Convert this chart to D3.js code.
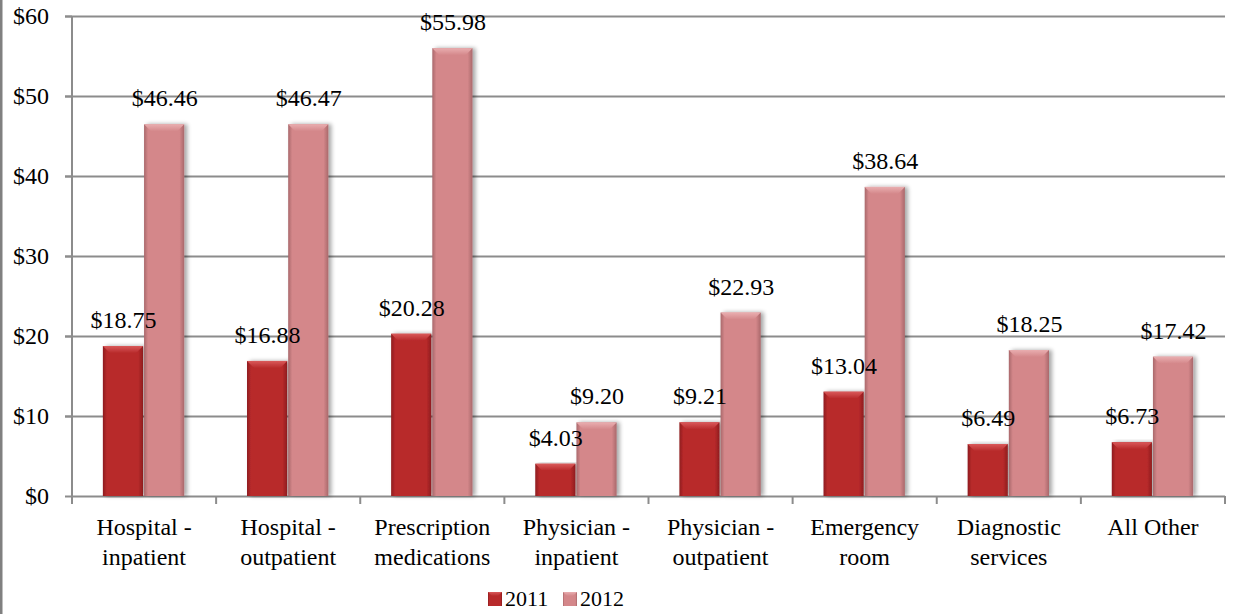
<!DOCTYPE html>
<html><head><meta charset="utf-8">
<script src="https://cdn.jsdelivr.net/npm/d3@7"></script>
<style>
body{margin:0;background:#fff;}
svg text{font-family:"Liberation Serif",Tinos,"Times New Roman",Times,"DejaVu Serif","Noto Serif",serif !important;fill:#000;}
</style></head>
<body><svg id="c" width="1238" height="614"></svg>
<script>
const categories = [["Hospital -","inpatient"],["Hospital -","outpatient"],["Prescription","medications"],["Physician -","inpatient"],["Physician -","outpatient"],["Emergency","room"],["Diagnostic","services"],["All Other"]];
const series = ["2011","2012"];
const values2011 = [18.75,16.88,20.28,4.03,9.21,13.04,6.49,6.73];
const values2012 = [46.46,46.47,55.98,9.20,22.93,38.64,18.25,17.42];
const yTicks = [0,10,20,30,40,50,60];

const svg = d3.select("#c");
const m = {l:72, r:1225, t:16, b:496};
const x = d3.scaleBand().domain(d3.range(categories.length)).range([m.l,m.r]).paddingInner(0).paddingOuter(0);
const xs = d3.scaleBand().domain(series).range([0,x.bandwidth()]).paddingInner(0).paddingOuter(0.75);
const y = d3.scaleLinear().domain([0,60]).range([m.b,m.t]);

const defs = svg.append("defs");
const cols = {"2011":{base:"#b82a2b",dark:"#8e1c1e",light:"#d9595a"},"2012":{base:"#d4878a",dark:"#a9686b",light:"#e9aeb0"}};
series.forEach(s=>{
  const g = defs.append("linearGradient").attr("id","g"+s).attr("x1","0").attr("x2","1").attr("y1","0").attr("y2","0");
  g.append("stop").attr("offset","0").attr("stop-color",cols[s].dark);
  g.append("stop").attr("offset","0.1").attr("stop-color",cols[s].base);
  g.append("stop").attr("offset","0.88").attr("stop-color",cols[s].base);
  g.append("stop").attr("offset","1").attr("stop-color",cols[s].dark);
  const t = defs.append("linearGradient").attr("id","t"+s).attr("x1","0").attr("x2","0").attr("y1","0").attr("y2","1");
  t.append("stop").attr("offset","0").attr("stop-color",cols[s].light);
  t.append("stop").attr("offset","1").attr("stop-color",cols[s].base);
});
const f = defs.append("filter").attr("id","sh").attr("x","-20%").attr("y","-5%").attr("width","150%").attr("height","115%");
f.append("feGaussianBlur").attr("in","SourceAlpha").attr("stdDeviation","2");
f.append("feOffset").attr("dx","3").attr("dy","0").attr("result","b");
f.append("feComponentTransfer").append("feFuncA").attr("type","linear").attr("slope","0.35");
const fm = f.append("feMerge"); fm.append("feMergeNode"); fm.append("feMergeNode").attr("in","SourceGraphic");

const FF = "Liberation Serif, Tinos, Times New Roman, DejaVu Serif, serif";

// left border
svg.append("line").attr("x1",1).attr("x2",1).attr("y1",0).attr("y2",614).attr("stroke","#808080").attr("stroke-width",3);

// gridlines
svg.append("g").selectAll("line").data(yTicks.filter(d=>d>0)).join("line")
  .attr("x1",65).attr("x2",m.r).attr("y1",d=>y(d)+0.5).attr("y2",d=>y(d)+0.5)
  .attr("stroke","#8c8c8c").attr("stroke-width",2);

// y axis
const ya = svg.append("g").attr("transform",`translate(${m.l},0)`).call(d3.axisLeft(y).tickValues(yTicks).tickSize(7).tickPadding(16).tickFormat(d=>"$"+d));
ya.attr("font-family",FF).attr("font-size",24);
ya.select(".domain").attr("stroke","#8c8c8c").attr("stroke-width",2).attr("d",`M0,${m.t}V${m.b}`);
ya.selectAll(".tick line").attr("stroke","#8c8c8c").attr("stroke-width",2);
ya.selectAll(".tick text").attr("fill","#000").attr("dy","0.32em");

// x axis
const xa = svg.append("g").attr("transform",`translate(0,${m.b})`).attr("font-family",FF);
xa.append("line").attr("x1",m.l).attr("x2",m.r).attr("y1",0.5).attr("y2",0.5).attr("stroke","#8c8c8c").attr("stroke-width",2);
xa.selectAll("line.t").data(d3.range(categories.length+1)).join("line").attr("class","t")
  .attr("x1",i=>i<categories.length?x(i):m.r).attr("x2",i=>i<categories.length?x(i):m.r)
  .attr("y1",0).attr("y2",8).attr("stroke","#8c8c8c").attr("stroke-width",2);
const lab = xa.selectAll("text").data(categories).join("text")
  .attr("text-anchor","middle").attr("font-size",24)
  .attr("x",(d,i)=>x(i)+x.bandwidth()/2).attr("y",39);
lab.selectAll("tspan").data(d=>d).join("tspan")
  .attr("x",function(){return this.parentNode.getAttribute("x");})
  .attr("dy",(d,i)=>i?30:0).text(d=>d);

// bars
const data = [];
categories.forEach((c,i)=>{ data.push({i,s:"2011",v:values2011[i]}); data.push({i,s:"2012",v:values2012[i]}); });
const bars = svg.append("g").selectAll("g").data(data).join("g").attr("filter","url(#sh)");
bars.append("rect")
  .attr("x",d=>x(d.i)+xs(d.s)).attr("width",xs.bandwidth()-1)
  .attr("y",d=>y(d.v)).attr("height",d=>y(0)-y(d.v))
  .attr("fill",d=>`url(#g${d.s})`);
bars.append("path").attr("fill",d=>`url(#t${d.s})`).attr("d",d=>{
  const x0=x(d.i)+xs(d.s), x1=x0+xs.bandwidth()-1, y0=y(d.v), h=y(0)-y(d.v);
  const b=Math.min(7,h/2);
  return `M${x0},${y0}H${x1}L${x1-b},${y0+b}H${x0+b}Z`;
});

// value labels
svg.append("g").attr("font-family",FF).selectAll("text").data(data).join("text")
  .attr("text-anchor","middle").attr("font-size",24)
  .attr("x",d=>x(d.i)+xs(d.s)+xs.bandwidth()/2).attr("y",d=>y(d.v)-18)
  .text(d=>"$"+d.v.toFixed(2));

// legend
const lg = svg.append("g").attr("transform","translate(488,592)").attr("font-family",FF);
const li = lg.selectAll("g").data(series).join("g").attr("transform",(d,i)=>`translate(${i*75},0)`);
li.append("rect").attr("width",14).attr("height",14).attr("fill",d=>`url(#g${d})`);
li.append("path").attr("fill",d=>`url(#t${d})`).attr("d","M0,0H14L10,4H4Z");
li.append("text").attr("x",17).attr("y",14).attr("font-size",22).text(d=>d);
</script></body></html>
